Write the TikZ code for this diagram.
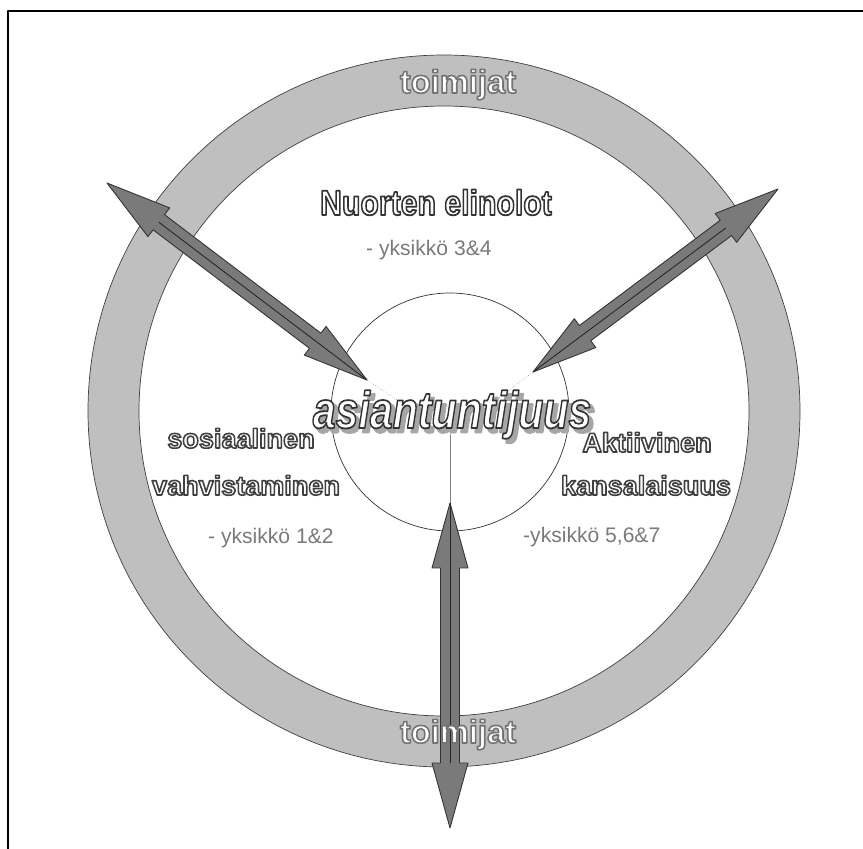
\documentclass[tikz,border=0pt]{standalone}
\usepackage{fontspec}
\setmainfont{Liberation Sans}
\usetikzlibrary{calc}

\newcommand{\outl}[3]{\special{pdf:literal direct #1 G #2 w 1 j 2 Tr}#3\special{pdf:literal direct 0 Tr}}

\newcommand{\dblarrow}[2]{%
\draw[arrowbody] (#1)
  -- ($(#1)!1.3cm!(#2)!0.36cm!90:(#2)$)
  -- ($(#1)!1.3cm!(#2)!0.19cm!90:(#2)$)
  -- ($(#2)!1.3cm!(#1)!0.19cm!-90:(#1)$)
  -- ($(#2)!1.3cm!(#1)!0.36cm!-90:(#1)$)
  -- (#2)
  -- ($(#2)!1.3cm!(#1)!0.36cm!90:(#1)$)
  -- ($(#2)!1.3cm!(#1)!0.19cm!90:(#1)$)
  -- ($(#1)!1.3cm!(#2)!0.19cm!-90:(#2)$)
  -- ($(#1)!1.3cm!(#2)!0.36cm!-90:(#2)$)
  -- cycle;
\draw[arrowline] (#1) -- ($(#2)!1.3cm!(#1)$);}

\begin{document}
\begin{tikzpicture}[x=0.02cm,y=-0.02cm,line join=round,
  ring/.style={draw=black!75,fill=black!25,line width=0.4pt,even odd rule},
  core/.style={draw=black!80,line width=0.4pt},
  arrowbody/.style={draw=black!80,fill=black!52,line width=0.5pt},
  arrowline/.style={black!85,line width=0.5pt},
  guide/.style={black!50,line width=0.3pt,densely dotted},
  stem/.style={black!50,line width=0.4pt},
  title/.style={font=\bfseries\fontsize{20}{22}\selectfont,text=white,anchor=base,xscale=0.86},
  area/.style={font=\bfseries\fontsize{15.4}{17}\selectfont,text=white,anchor=base},
  unit/.style={font=\fontsize{12}{13}\selectfont,text=black!52,anchor=base west},
  actor/.style={font=\bfseries\fontsize{18.6}{20}\selectfont,text=white,anchor=base},
  expert/.style={font=\bfseries\itshape\fontsize{29.6}{31}\selectfont,anchor=base,xscale=0.79}]
\useasboundingbox (0,0) rectangle (863,849);
\draw[line width=1.2pt] (8,849) -- (8,11) -- (863,11);

\path[ring] (444,411) circle (356) (444,411) circle (305);
\draw[core] (450,412) circle (119);

\coordinate (hub) at (450,435);
\coordinate (ulin) at (367,380);
\coordinate (ulout) at (107,183);
\coordinate (urin) at (533,372);
\coordinate (urout) at (778,189);
\coordinate (btin) at (450,503);
\coordinate (btout) at (450,828);

\draw[guide] (hub) -- (ulin);
\draw[guide] (hub) -- (urin);
\draw[stem] (hub) -- (btin);

\dblarrow{ulin}{ulout}
\dblarrow{urin}{urout}
\dblarrow{btin}{btout}

\node[actor] (toptoim) at (458,93) {\outl{0.45}{0.9}{toimijat}};
\node[actor] (bottoim) at (458,743) {\outl{0.45}{0.9}{toimijat}};

\node[title] (nuorten) at (436,215) {\outl{0.2}{1.0}{Nuorten elinolot}};
\node[unit] (unit34) at (360,255) {- yksikkö 3\&4};

\node[area] (sos) at (241,448) {\outl{0.25}{0.9}{sosiaalinen}};
\node[area] (vahv) at (246,495) {\outl{0.25}{0.9}{vahvistaminen}};
\node[unit] (unit12) at (202,543) {- yksikkö 1\&2};

\node[area] (akt) at (647,452) {\outl{0.25}{0.9}{Aktiivinen}};
\node[area] (kans) at (646,495) {\outl{0.25}{0.9}{kansalaisuus}};
\node[unit] (unit567) at (517,542) {-yksikkö 5,6\&7};

\node[expert,text=black!35] (expshadow) at (456,432) {\outl{0.65}{1.6}{asiantuntijuus}};
\node[expert,text=white] (expert) at (452,428) {\outl{0.2}{1.0}{asiantuntijuus}};
\end{tikzpicture}
\end{document}
